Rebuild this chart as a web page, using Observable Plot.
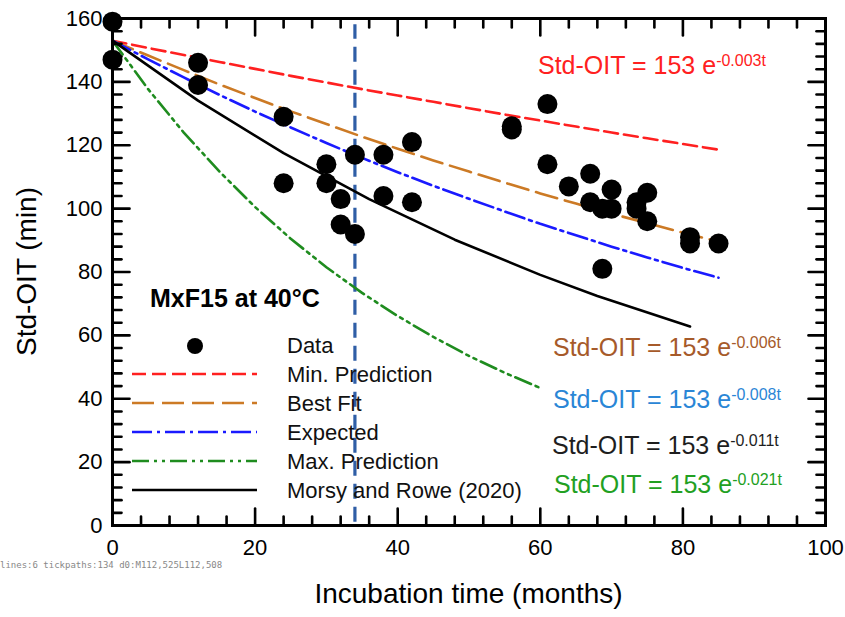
<!DOCTYPE html>
<html><head><meta charset="utf-8">
<script src="https://cdn.jsdelivr.net/npm/d3@7"></script>
<script src="https://cdn.jsdelivr.net/npm/@observablehq/plot@0.6"></script>
<style>body{margin:0;background:#fff;} #chart svg{display:block;}</style>
</head><body><div id="chart"></div>
<pre id="dbg" style="position:absolute;left:0;top:560px;font-size:9px;line-height:10px;margin:0;color:#888"></pre>
<script>
// ---------- data ----------
const dataMonths = [0,0,12,12,24,24,30,30,32,32,34,34,38,38,42,42,56,56,61,61,64,67,67,68.7,68.7,70,70,73.5,73.5,75,75,81,81,85];
const dataOIT    = [159,147,146,139,129,108,114,108,103,95,117,92,117,104,121,102,126,125,133,114,107,111,102,100,81,106,100,102,100,105,96,91,89,89];

const minPredT   = [0,5,10,15,20,25,30,35,40,45,50,55,60,65,70,75,80,85];
const minPredOIT = [153,150.7,148.5,146.3,144.1,141.9,139.8,137.7,135.7,133.7,131.7,129.7,127.8,125.9,124.0,122.2,120.4,118.6];

const bestFitT   = [0,5,10,15,20,25,30,35,40,45,50,55,60,65,70,75,80,85];
const bestFitOIT = [153,148.3,143.7,139.2,134.9,130.7,126.7,122.7,118.9,115.2,111.7,108.2,104.8,101.6,98.4,95.4,92.4,89.6];

const expectedT   = [0,5,10,15,20,25,30,35,40,45,50,55,60,65,70,75,80,85];
const expectedOIT = [153,147.1,141.4,135.9,130.6,125.6,120.7,116.0,111.5,107.2,103.1,99.1,95.2,91.6,88.0,84.6,81.3,78.2];

const maxPredT   = [0,5,10,15,20,25,30,35,40,45,50,55,60];
const maxPredOIT = [153,137.7,124.0,111.7,100.5,90.5,81.5,73.4,66.1,59.5,53.5,48.2,43.4];

const morsyT   = [0,12,24,36,48,60,68,81];
const morsyOIT = [153,134.1,117.5,103.0,90.2,79.1,72.4,62.8];

const markerMonths = [34];

const xMajorTicks = [0,20,40,60,80,100];
const yMajorTicks = [0,20,40,60,80,100,120,140,160];
const xMinorTicks = [4,8,12,16,24,28,32,36,44,48,52,56,64,68,72,76,84,88,92,96];
const yMinorTicks = [4,8,12,16,24,28,32,36,44,48,52,56,64,68,72,76,84,88,92,96,104,108,112,116,124,128,132,136,144,148,152,156];

const legendTitle = "MxF15 at 40°C";
const legendNames = ["Data","Min. Prediction","Best Fit","Expected","Max. Prediction","Morsy and Rowe (2020)"];
const eqMain = "Std-OIT = 153 e";
const eqExponents = ["-0.003t","-0.006t","-0.008t","-0.011t","-0.021t"];
const xTitle = "Incubation time (months)";
const yTitle = "Std-OIT (min)";

// ---------- styles ----------
const FONT = "Arial, 'Liberation Sans', sans-serif";
const C_RED = "#ff2020", C_BROWN = "#cc7a25", C_BLUE = "#1a1aff", C_GREEN = "#1f8c1f", C_BLACK = "#000";
const D_RED = "14,6", D_BROWN = "22,8", D_BLUE = "20,5,3,5", D_GREEN = "17,5,3,5,3,5";

const pts = dataMonths.map((t,i) => ({t, v: dataOIT[i]}));
const zip = (T,V) => T.map((t,i) => ({t, v: V[i]}));

// inward tick segments built from the tick arrays (pixel length -> data units), drawn as Plot lines
const PX_X = 713 / 100, PX_Y = 507 / 160;
const tickSegs = [];
let k = 0;
[[xMajorTicks, 17], [xMinorTicks, 9]].forEach(([vals, len]) => vals.forEach(v => {
  const d = len / PX_Y;
  tickSegs.push({x: v, y: 0, k}, {x: v, y: d, k}); k++;
  tickSegs.push({x: v, y: 160, k}, {x: v, y: 160 - d, k}); k++;
}));
[[yMajorTicks, 17], [yMinorTicks, 9]].forEach(([vals, len]) => vals.forEach(v => {
  const d = len / PX_X;
  tickSegs.push({x: 0, y: v, k}, {x: d, y: v, k}); k++;
  tickSegs.push({x: 100, y: v, k}, {x: 100 - d, y: v, k}); k++;
}));

let chart, out = "";
try {
chart = Plot.plot({
  width: 845, height: 617,
  marginLeft: 112, marginRight: 20, marginTop: 18, marginBottom: 92,
  style: {fontFamily: FONT, background: "white", color: "black"},
  x: {domain: [0,100]},
  y: {domain: [0,160]},
  marks: [
    Plot.ruleX(markerMonths, {stroke: "#2f5ea6", strokeWidth: 3.2, strokeDasharray: "15,8", y1: 1, y2: 158}),
    Plot.line(zip(minPredT,minPredOIT),   {x:"t", y:"v", stroke: C_RED,   strokeWidth: 2.6, strokeDasharray: D_RED}),
    Plot.line(zip(bestFitT,bestFitOIT),   {x:"t", y:"v", stroke: C_BROWN, strokeWidth: 2.6, strokeDasharray: D_BROWN}),
    Plot.line(zip(expectedT,expectedOIT), {x:"t", y:"v", stroke: C_BLUE,  strokeWidth: 2.6, strokeDasharray: D_BLUE}),
    Plot.line(zip(maxPredT,maxPredOIT),   {x:"t", y:"v", stroke: C_GREEN, strokeWidth: 2.6, strokeDasharray: D_GREEN}),
    Plot.line(zip(morsyT,morsyOIT),       {x:"t", y:"v", stroke: C_BLACK, strokeWidth: 2.6}),
    Plot.line(tickSegs, {x: "x", y: "y", z: "k", stroke: "black", strokeWidth: 2.6}),
    Plot.dot(pts, {x:"t", y:"v", r: 10, fill: "black"}),
    Plot.frame({stroke: "black", strokeWidth: 3}),
    Plot.axisX(xMajorTicks, {anchor: "bottom", tickSize: 0, tickPadding: 14, fontSize: 22, label: null}),
    Plot.axisY(yMajorTicks, {anchor: "left", tickSize: 0, tickPadding: 10, fontSize: 22, label: null})
  ]
});
document.getElementById("chart").appendChild(chart);
} catch (e) { out += "ERR " + e.message + "\n"; }

const svg = d3.select(chart);
const sx = chart.scale("x"), sy = chart.scale("y");
const lx = d3.scaleLinear(sx.domain, sx.range), ly = d3.scaleLinear(sy.domain, sy.range);

// ---------- axis titles ----------
svg.append("text").attr("x", (lx(0) + lx(100)) / 2).attr("y", 596).attr("text-anchor", "middle")
  .attr("dominant-baseline", "middle").attr("font-family", FONT).attr("font-size", 28).attr("fill", "black").text(xTitle);
svg.append("text").attr("transform", `translate(29,${(ly(0) + ly(160)) / 2}) rotate(-90)`).attr("text-anchor", "middle")
  .attr("dominant-baseline", "middle").attr("font-family", FONT).attr("font-size", 28).attr("fill", "black").text(yTitle);

// ---------- equation annotations ----------
const eqLayout = [
  {color: C_RED,     x: 538, y: 74},
  {color: "#a65a2a", x: 553, y: 356},
  {color: "#2a86d6", x: 553, y: 408},
  {color: "#1e1e1e", x: 552, y: 454},
  {color: "#22a022", x: 554, y: 493}
];
eqExponents.forEach((ex, i) => {
  const L = eqLayout[i];
  const t = svg.append("text").attr("x", L.x).attr("y", L.y).attr("text-anchor", "start")
    .attr("fill", L.color).attr("font-size", 25).attr("font-family", FONT);
  t.append("tspan").text(eqMain);
  t.append("tspan").attr("font-size", 16).attr("dy", -8).text(ex);
});

// ---------- legend ----------
const lg = svg.append("g").attr("font-family", FONT).attr("text-anchor", "start");
lg.append("text").attr("x", 150).attr("y", 307).attr("font-size", 25).attr("font-weight", "bold").text(legendTitle);
const lgY = [353, 382, 411, 440, 469, 498];
legendNames.forEach((n, i) => {
  lg.append("text").attr("x", 287).attr("y", lgY[i]).attr("font-size", 22).attr("fill", "#111").text(n);
});
lg.append("circle").attr("cx", 195).attr("cy", 346).attr("r", 8).attr("fill", "black");
const lgLines = [[C_RED, D_RED], [C_BROWN, D_BROWN], [C_BLUE, D_BLUE], [C_GREEN, D_GREEN], [C_BLACK, null]];
lgLines.forEach(([c, d], i) => {
  const yy = lgY[i+1] - 8;
  const ln = lg.append("line").attr("x1", 132).attr("x2", 257).attr("y1", yy).attr("y2", yy)
    .attr("stroke", c).attr("stroke-width", 2.6);
  if (d) ln.attr("stroke-dasharray", d);
});

// debug info (small, grey, bottom-left corner)
try {
  const lines = chart.querySelectorAll('g[aria-label="line"]');
  const tl = lines[5];
  out += "lines:" + lines.length + " tickpaths:" + (tl ? tl.children.length : "-") + " d0:" + (tl && tl.firstElementChild ? (tl.firstElementChild.getAttribute("d")||"").slice(0,40) : "-");
} catch (e) { out += "dbgERR " + e.message; }
document.getElementById("dbg").textContent = out;
</script>
</body></html>
